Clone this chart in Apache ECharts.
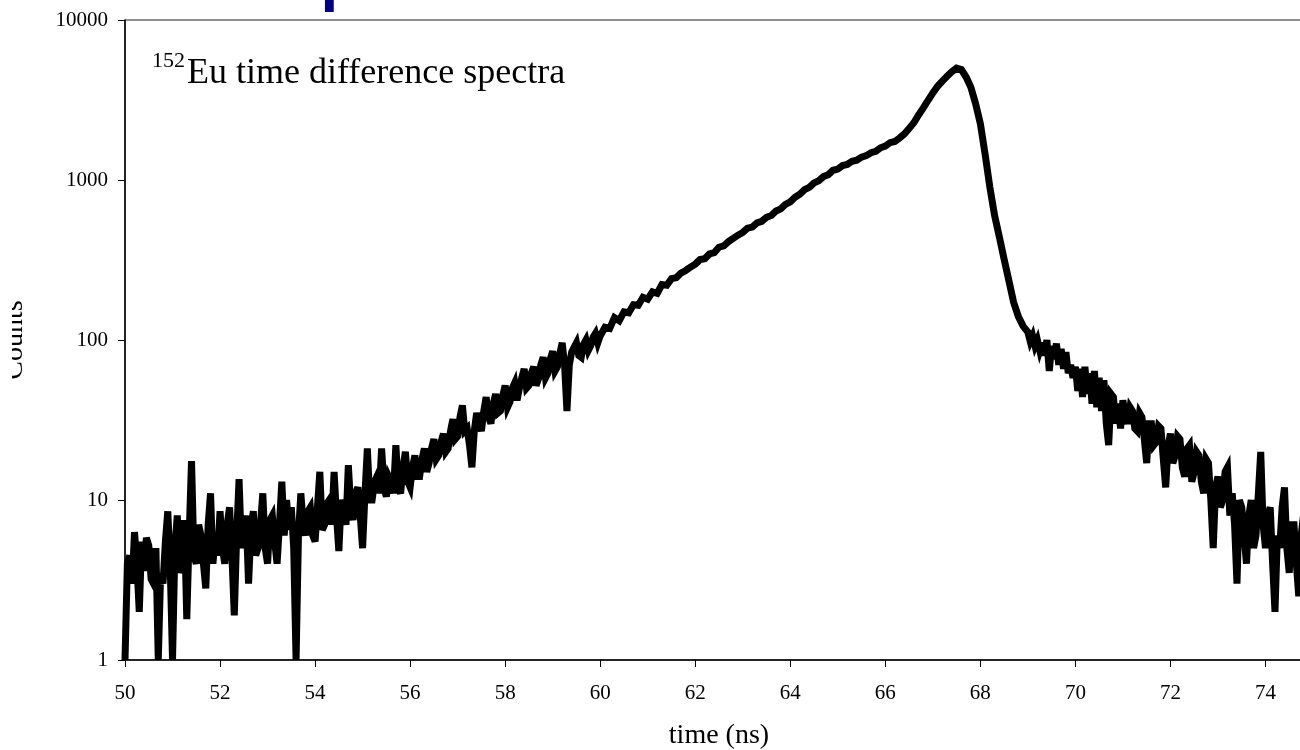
<!DOCTYPE html>
<html><head><meta charset="utf-8">
<script src="https://cdn.jsdelivr.net/npm/echarts@6/dist/echarts.min.js"></script>
<style>html,body{margin:0;padding:0;background:#fff}#c{width:1300px;height:750px}</style>
</head><body><div id="c"></div>
<script>
// Histogram segments: each has a start time (ns) and a bin width (ns)
const riseStart = 50.0, riseBin = 0.05;   // 50.00 - 59.95 ns
const peakStart = 60.0, peakBin = 0.1;    // 60.0 - 68.9 ns
const tailStart = 69.0, tailBin = 0.05;   // 69.00 - 75.00 ns

const riseCounts = [
  1,4, 4.5,3, 6.3,4, 2,5.5, 3.6,5.8, 5.2,3.2, 3,5, 1,3.5, 3,5.5, 8.5,4,
  1,5, 8,3.5, 4,7.5, 1.8,6, 17.5,4.5, 4,7, 6,4, 2.8,7, 11,4, 6,4.5,
  8.5,5, 4,7, 9,4.5, 1.9,6, 13.5,5, 6,8, 3,6.5, 8.5,4.5, 5,7, 11,5,
  4,7.5, 8,5.5, 4,7, 13,6, 10,6.5, 9,5, 1,6, 11,7, 6,8.5, 9,6,
  5.5,9, 15,6.5, 7,9.5, 10,7, 15,8, 4.8,10, 9,7, 16.5,9, 7.5,11, 12,8,
  5,11, 21,10, 10,13, 14,11, 21,12, 10.5,14, 13,11, 22,12, 11,16, 20,13,
  12,16, 19,14, 14,18, 21,15, 17,21, 24,18, 19,23, 26,20, 21,27, 32,24,
  25,33, 39,27, 28,22, 16,27, 35,30, 27,36, 44,33, 30,40, 46,35, 36,45,
  52,38, 41,50, 54,42, 50,58, 66,50, 52,62, 68,52, 57,70, 78,58, 62,76,
  85,64, 68,82, 96,70, 36,70, 84,90, 96,80, 78,94, 100,86, 92,104, 110,96
];
const peakCounts = [
  106,120,118,138,132,150,148,166,165,185,
  180,200,196,222,220,242,245,262,272,285,
  298,318,322,345,352,380,388,412,432,452,
  470,500,508,540,552,585,600,640,660,705,
  730,780,815,870,900,960,990,1050,1080,1150,
  1170,1230,1250,1310,1330,1390,1420,1480,1510,1590,
  1630,1710,1740,1830,1940,2100,2280,2550,2820,3150,
  3500,3850,4150,4450,4750,5000,4900,4400,3800,3000,
  2250,1450,900,600,440,320,235,172,140,122
];
const tailCounts = [
  112,98, 106,92, 100,86, 96,80, 100,64, 92,76, 95,70, 88,66, 84,62, 70,58,
  68,48, 66,44, 68,46, 62,40, 64,38, 58,36, 56,30, 22,46, 44,30, 40,28,
  42,33, 30,38, 36,28, 27,35, 33,24, 17,30, 30,22, 23,29, 28,18, 12,22,
  26,17, 19,25, 24,16, 14,21, 22,13, 15,20, 19,13, 11,18, 17,10, 5,12,
  14,9, 10,15, 16,8, 11,7, 3,10, 9,6, 4,8, 10,5, 6,11, 20,7,
  5,8, 9,4, 2,6, 5,9, 12,5, 3.5,7, 7,4, 2.5,6, 8,4, 5,7,
  4
];
const xTickLabels = ['50','52','54','56','58','60','62','64','66','68','70','72','74'];
const yTickLabels = ['1','10','100','1000','10000'];

function toPoints(start, bin, counts) {
  return counts.map((c, i) => [+(start + i * bin).toFixed(3), c]);
}
const seriesData = toPoints(riseStart, riseBin, riseCounts)
  .concat(toPoints(peakStart, peakBin, peakCounts), toPoints(tailStart, tailBin, tailCounts));

const serif = '"Liberation Serif", "Times New Roman", serif';
const chart = echarts.init(document.getElementById('c'), null, {renderer: 'canvas'});
chart.setOption({
  animation: false,
  backgroundColor: '#fff',
  grid: {left: 125, top: 20, width: 1188, height: 640, outerBoundsMode: 'none', containLabel: false,
    show: true, borderColor: '#222', borderWidth: 1, backgroundColor: 'transparent'},
  xAxis: {
    type: 'value', min: 50, max: 75, interval: 2,
    name: 'time (ns)', nameLocation: 'middle', nameGap: 62,
    nameTextStyle: {fontFamily: serif, fontSize: 28, color: '#000'},
    axisLine: {show: true, lineStyle: {color: '#000', width: 1.5}},
    axisTick: {show: true, inside: false, length: 7, lineStyle: {color: '#000', width: 1}},
    axisLabel: {margin: 23, fontFamily: serif, fontSize: 21, color: '#000',
      formatter: v => xTickLabels.includes(String(v)) ? String(v) : ''},
    splitLine: {show: false}
  },
  yAxis: {
    type: 'log', logBase: 10, min: 1, max: 10000,
    name: 'Counts', nameLocation: 'middle', nameGap: 96,
    nameTextStyle: {fontFamily: serif, fontSize: 28, color: '#000'},
    axisLine: {show: true, lineStyle: {color: '#000', width: 1.5}},
    axisTick: {show: true, inside: false, length: 7, lineStyle: {color: '#000', width: 1}},
    axisLabel: {margin: 17, fontFamily: serif, fontSize: 21, color: '#000',
      formatter: v => { const s = String(Math.round(v)); return yTickLabels.includes(s) ? s : ''; }},
    splitLine: {show: false},
    minorTick: {show: false}
  },
  graphic: [
    {type: 'text', x: 119, y: -19, style: {text: 'Time spectrum', font: 'bold 64px "Liberation Sans", Arial, sans-serif', fill: '#00008b', align: 'left', verticalAlign: 'middle'}},
    {type: 'text', x: 152, y: 61, style: {text: '152', font: '22px ' + serif, fill: '#000', align: 'left', verticalAlign: 'middle'}},
    {type: 'text', x: 187, y: 74, style: {text: 'Eu time difference spectra', font: '36px ' + serif, fill: '#000', align: 'left', verticalAlign: 'middle'}},
    {type: 'rect', z: 100, shape: {x: 0, y: 285, width: 12, height: 110}, style: {fill: '#fff'}}
  ],
  series: [{
    type: 'line', data: seriesData, showSymbol: false, symbol: 'none', sampling: 'none',
    clip: true,
    lineStyle: {color: '#000', width: 7, join: 'miter', miterLimit: 4, cap: 'butt'}
  }]
});
</script></body></html>
